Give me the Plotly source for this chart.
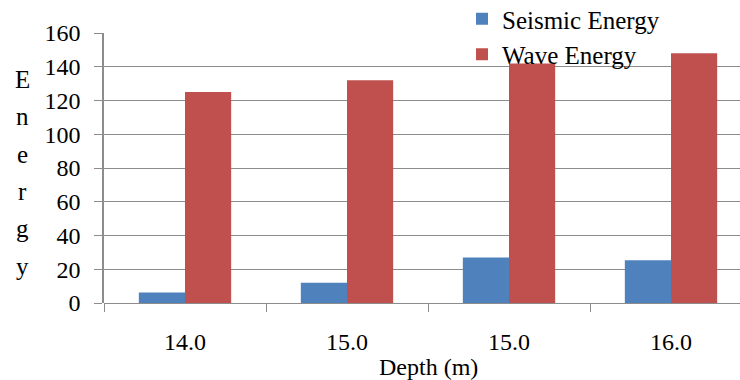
import plotly.graph_objects as go

categories = ["14.0", "15.0", "15.0", "16.0"]
seismic_energy = [6.2, 12.0, 27.0, 25.3]
wave_energy = [125.0, 132.0, 142.0, 148.0]
y_ticks = [0, 20, 40, 60, 80, 100, 120, 140, 160]
y_title = "Energy"
x_title = "Depth (m)"

FONT = "Liberation Serif"
GRID = "#8c8c8c"
idx = list(range(len(categories)))

fig = go.Figure()
fig.add_trace(go.Bar(x=idx, y=seismic_energy, name="Seismic Energy",
                     marker=dict(color="#4F81BD", line=dict(width=0))))
fig.add_trace(go.Bar(x=idx, y=wave_energy, name="Wave Energy",
                     marker=dict(color="#C0504D", line=dict(width=0))))

W, H = 740, 380
L, T, B = 104, 33, 77
plot_h = H - T - B

annotations = []
for i, ch in enumerate(y_title):
    py = 79 + 37.5 * i
    annotations.append(dict(text=ch, xref="paper", yref="paper",
                            x=(22 - L) / (W - L), y=(H - B - py) / plot_h,
                            xanchor="center", yanchor="middle", showarrow=False,
                            font=dict(family=FONT, size=25, color="#000")))
annotations.append(dict(text=x_title, xref="x", yref="paper", x=1.5, y=(H - B - 367) / plot_h,
                        xanchor="center", yanchor="middle", showarrow=False,
                        font=dict(family=FONT, size=24, color="#000")))

fig.update_layout(
    width=W, height=H,
    margin=dict(l=L, r=0, t=T, b=B, autoexpand=False),
    paper_bgcolor="white", plot_bgcolor="white",
    barmode="group", bargap=0.43, bargroupgap=0,
    font=dict(family=FONT, size=24, color="#000"),
    showlegend=True,
    legend=dict(x=(462 - L) / (W - L), y=(H - B + 4) / plot_h, xanchor="left", yanchor="top",
                bgcolor="rgba(0,0,0,0)", font=dict(family=FONT, size=25, color="#000"),
                tracegroupgap=0, itemwidth=30),
    annotations=annotations,
)
fig.update_xaxes(range=[-0.5, 3.5 - 12 / 162], tickmode="array", tickvals=idx, ticktext=categories,
                 ticks="", showgrid=False, showline=False, zeroline=False,
                 tickfont=dict(family=FONT, size=24, color="#000"), ticklabelstandoff=22,
                 minor=dict(tickmode="array", tickvals=[-0.5, 0.5, 1.5, 2.5, 3.5],
                            ticks="outside", ticklen=8, tickwidth=1, tickcolor=GRID, showgrid=False))
fig.update_yaxes(range=[0, 160], tickmode="array", tickvals=y_ticks,
                 ticks="outside", ticklen=8, tickwidth=1, tickcolor=GRID,
                 showgrid=True, gridcolor=GRID, gridwidth=1,
                 showline=True, linecolor=GRID, linewidth=1.5, zeroline=True, zerolinecolor=GRID,
                 zerolinewidth=1, tickfont=dict(family=FONT, size=24, color="#000"), ticklabelstandoff=9)

fig.write_html("out.html")
